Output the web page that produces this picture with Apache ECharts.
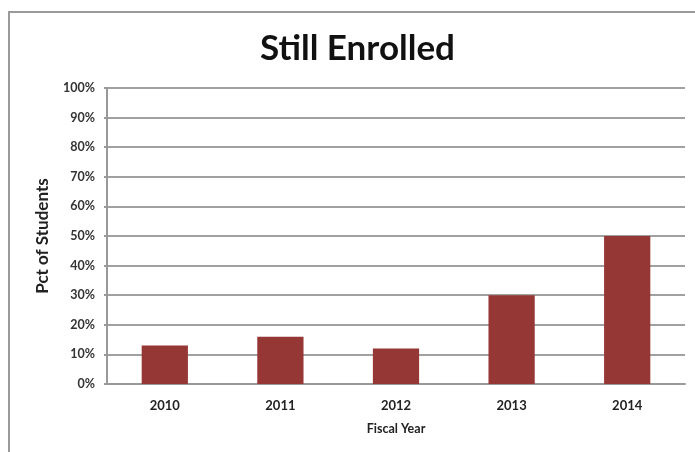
<!DOCTYPE html>
<html>
<head>
<meta charset="utf-8">
<script src="https://cdn.jsdelivr.net/npm/echarts@6/dist/echarts.min.js"></script>
<style>
html,body{margin:0;padding:0;background:#fff;}
#chart{width:695px;height:452px;}
</style>
</head>
<body>
<div id="chart"></div>
<script>
const categories = ['2010', '2011', '2012', '2013', '2014'];
const stillEnrolled = [13, 16, 12, 30, 50];
const titleText = 'Still Enrolled';
const xAxisName = 'Fiscal Year';
const yAxisName = 'Pct of Students';

const chart = echarts.init(document.getElementById('chart'));
const FONT = 'Lato, "Open Sans", sans-serif';
chart.setOption({
  animation: false,
  backgroundColor: '#ffffff',
  title: {
    text: titleText,
    left: 255,
    top: 26,
    textStyle: { fontFamily: FONT, fontSize: 35, fontWeight: 'bold', color: '#111' }
  },
  graphic: [{
    type: 'rect',
    shape: { x: 9, y: 12, width: 720, height: 480 },
    style: { fill: 'none', stroke: '#9a9a9a', lineWidth: 2 },
    silent: true
  }],
  grid: { left: 107, right: 10, top: 88, bottom: 68, containLabel: false },
  xAxis: {
    type: 'category',
    data: categories,
    name: xAxisName,
    nameLocation: 'middle',
    nameGap: 38,
    nameTextStyle: { fontFamily: FONT, fontSize: 12.5, fontWeight: 'bold', color: '#222' },
    axisLine: { show: true, lineStyle: { color: '#999', width: 2 } },
    axisTick: { show: false },
    axisLabel: { fontFamily: FONT, fontSize: 13, fontWeight: 'bold', color: '#222', margin: 15 }
  },
  yAxis: {
    type: 'value',
    min: 0, max: 100, interval: 10,
    name: yAxisName,
    nameLocation: 'middle',
    nameGap: 56,
    nameRotate: 90,
    nameTextStyle: { fontFamily: FONT, fontSize: 17, fontWeight: 'bold', color: '#222' },
    axisLine: { show: true, lineStyle: { color: '#999', width: 2 } },
    axisTick: { show: true, length: 3, lineStyle: { color: '#999', width: 2 } },
    axisLabel: { fontFamily: FONT, fontSize: 12.5, fontWeight: 'bold', color: '#333', margin: 12, formatter: '{value}%' },
    splitLine: { show: true, lineStyle: { color: '#a0a0a0', width: 2 } }
  },
  series: [{
    type: 'bar',
    data: stillEnrolled,
    barWidth: '40%',
    itemStyle: { color: '#953735' }
  }]
});
</script>
</body>
</html>
